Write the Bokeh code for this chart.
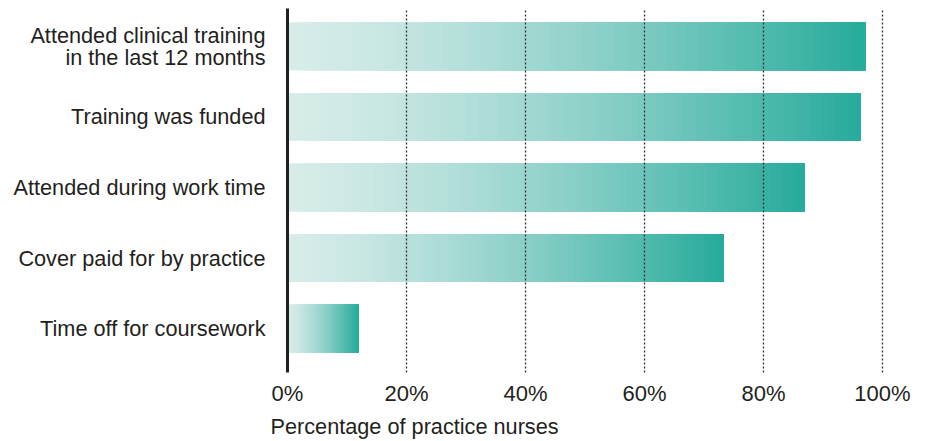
from bokeh.plotting import figure
from bokeh.models import Range1d, FixedTicker, Title, ColumnDataSource
from bokeh.embed import file_html
from bokeh.resources import INLINE

# Data
categories = [
    "Attended clinical training\nin the last 12 months",
    "Training was funded",
    "Attended during work time",
    "Cover paid for by practice",
    "Time off for coursework",
]
values = [97.1, 96.3, 86.9, 73.3, 11.9]
x_ticks = [0, 20, 40, 60, 80, 100]
x_tick_labels = ["0%", "20%", "40%", "60%", "80%", "100%"]
axis_title = "Percentage of practice nurses"

start_rgb = (215, 236, 233)
end_rgb = (39, 171, 156)
N_SLICES = 90
EASE = 1.35

FONT = "Liberation Sans"
TEXT_COLOR = "#231f20"
FS = "21.7px"

n = len(categories)
ypos = [n - 1 - i for i in range(n)]

p = figure(width=928, height=441, output_backend="svg", toolbar_location=None,
           x_range=Range1d(0, 107.73), y_range=Range1d(-0.622, n - 1 + 0.537),
           min_border_left=287, min_border_right=0, min_border_top=8, min_border_bottom=0)
p.outline_line_color = None
p.background_fill_color = "white"
p.border_fill_color = "white"

# gradient bars: each slice spans from its start to the bar end, drawn in order
ys, lefts, rights, colors = [], [], [], []
for y, v in zip(ypos, values):
    for k in range(N_SLICES):
        t = (k / (N_SLICES - 1)) ** EASE
        r = round(start_rgb[0] + (end_rgb[0] - start_rgb[0]) * t)
        g = round(start_rgb[1] + (end_rgb[1] - start_rgb[1]) * t)
        b = round(start_rgb[2] + (end_rgb[2] - start_rgb[2]) * t)
        ys.append(y)
        lefts.append(v * k / N_SLICES)
        rights.append(v)
        colors.append("#%02x%02x%02x" % (r, g, b))
src = ColumnDataSource(dict(y=ys, left=lefts, right=rights, color=colors))
p.hbar(y="y", left="left", right="right", height=0.678, fill_color="color",
       line_color=None, source=src, level="underlay")

# grid
p.ygrid.grid_line_color = None
p.xgrid.ticker = FixedTicker(ticks=x_ticks[1:])
p.xgrid.grid_line_color = "#333333"
p.xgrid.grid_line_dash = "2 2"
p.xgrid.grid_line_width = 1.3
p.xgrid.level = "overlay"

# x axis
xa = p.xaxis[0]
xa.ticker = FixedTicker(ticks=x_ticks)
xa.major_label_overrides = {t: l for t, l in zip(x_ticks, x_tick_labels)}
xa.axis_line_color = None
xa.major_tick_line_color = None
xa.minor_tick_line_color = None
xa.major_tick_in = 0
xa.major_tick_out = 0
xa.major_label_standoff = 8
xa.major_label_text_font = FONT
xa.major_label_text_font_size = "22px"
xa.major_label_text_color = TEXT_COLOR

# y axis
ya = p.yaxis[0]
ya.ticker = FixedTicker(ticks=ypos)
ya.major_label_overrides = {y: c for y, c in zip(ypos, categories)}
ya.axis_line_color = "#231f20"
ya.axis_line_width = 3
ya.major_tick_line_color = None
ya.minor_tick_line_color = None
ya.major_tick_in = 0
ya.major_tick_out = 0
ya.major_label_standoff = 22
ya.major_label_text_font = FONT
ya.major_label_text_font_size = FS
ya.major_label_text_color = TEXT_COLOR
ya.major_label_text_line_height = 0.88

p.add_layout(Title(text=axis_title, align="left", offset=-17, standoff=6,
                   text_font=FONT, text_font_size=FS, text_color=TEXT_COLOR,
                   text_font_style="normal"), "below")

open("out.html", "w").write(file_html(p, INLINE))
